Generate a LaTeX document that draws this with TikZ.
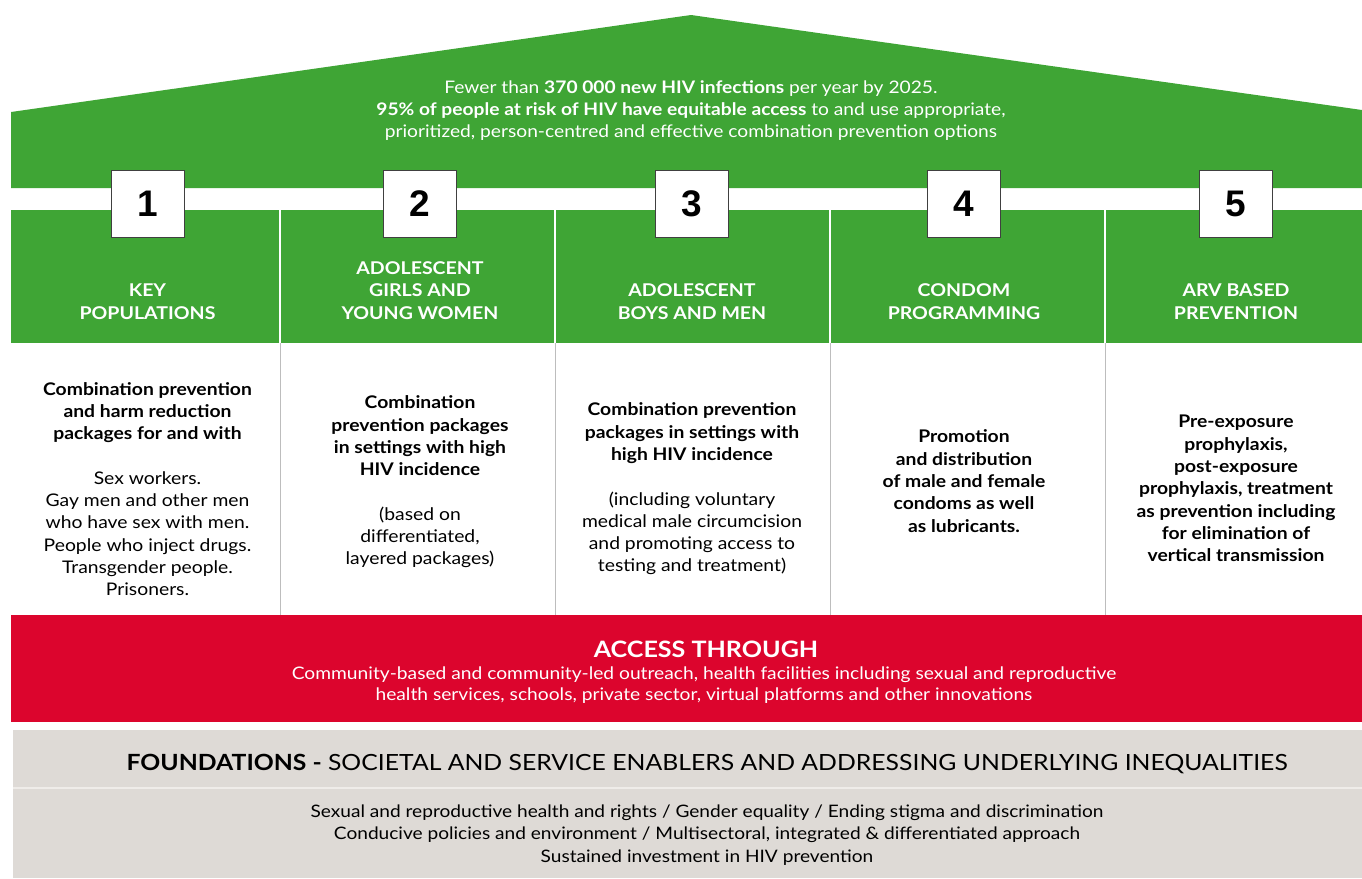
\documentclass[tikz,border=0pt]{standalone}
\usepackage{fontspec}
\setmainfont{Lato}[FakeStretch=1.11]
\newfontfamily\numfont{Liberation Sans}
\definecolor{hgreen}{HTML}{3FA535}
\definecolor{hred}{HTML}{DC052D}
\definecolor{hgray}{HTML}{DEDAD6}
\definecolor{hgrayline}{HTML}{EFECE9}
\definecolor{divgray}{HTML}{BDBDBD}
\begin{document}
\begin{tikzpicture}[x=1pt,y=-1pt,
  hdr/.style={text=white, font=\bfseries\fontsize{17.6}{22.5}\selectfont, align=center, inner sep=0},
  body/.style={text=black, font=\fontsize{17.4}{22.3}\selectfont, align=center, inner sep=0},
  numbox/.style={draw=black!75, fill=white, line width=0.9pt, minimum width=73pt, minimum height=67pt, inner sep=0, font=\numfont\bfseries\fontsize{37}{37}\selectfont},
  wtxt/.style={text=white, font=\fontsize{17.3}{21.7}\selectfont, align=center, inner sep=0},
  btxt/.style={text=black, font=\fontsize{17.2}{22.5}\selectfont, align=center, inner sep=0}
]
\useasboundingbox (0,0) rectangle (1362,878);
% roof
\fill[hgreen] (11,112) -- (691,15) -- (1362,110) -- (1362,188) -- (11,188) -- cycle;
% header band
\fill[hgreen] (11,210) rectangle (1362,343);
\foreach \xx in {280,555,830,1105} {
  \draw[white, line width=1.3pt] (\xx,210) -- (\xx,343);
  \draw[divgray, line width=1pt] (\xx,343) -- (\xx,615);
}
% red band
\fill[hred] (11,615) rectangle (1362,722);
% gray band
\fill[hgray] (13,730) rectangle (1362,878);
\draw[hgrayline, line width=2pt] (13,788) -- (1362,788);

% top text
\node[wtxt] (goal) at (691,110.5) {Fewer than \textbf{370 000 new HIV infections} per year by 2025.\\
\textbf{95\% of people at risk of HIV have equitable access} to and use appropriate,\\
prioritized, person-centred and effective combination prevention options};

% number boxes
\node[numbox] (n1) at (147.5,203.5) {1};
\node[numbox] (n2) at (420,203.5) {2};
\node[numbox] (n3) at (692,203.5) {3};
\node[numbox] (n4) at (964,203.5) {4};
\node[numbox] (n5) at (1236,203.5) {5};

% headers
\node[hdr] (h1) at (147.5,301.5) {KEY\\POPULATIONS};
\node[hdr] (h2) at (420,290.5) {ADOLESCENT\\GIRLS AND\\YOUNG WOMEN};
\node[hdr] (h3) at (692,301.5) {ADOLESCENT\\BOYS AND MEN};
\node[hdr] (h4) at (964,301.5) {CONDOM\\PROGRAMMING};
\node[hdr] (h5) at (1236,301.5) {ARV BASED\\PREVENTION};

% bodies
\node[body] (b1) at (147.5,489) {\textbf{Combination prevention}\\\textbf{and harm reduction}\\\textbf{packages for and with}\\[22.3pt]
Sex workers.\\Gay men and other men\\who have sex with men.\\People who inject drugs.\\Transgender people.\\Prisoners.};
\node[body] (b2) at (420,482) {\textbf{Combination}\\\textbf{prevention packages}\\\textbf{in settings with high}\\\textbf{HIV incidence}\\[22.3pt]
(based on\\differentiated,\\layered packages)};
\node[body] (b3) at (692,489) {\textbf{Combination prevention}\\\textbf{packages in settings with}\\\textbf{high HIV incidence}\\[22.3pt]
(including voluntary\\medical male circumcision\\and promoting access to\\testing and treatment)};
\node[body, font=\bfseries\fontsize{17.4}{22.3}\selectfont] (b4) at (964,481) {Promotion\\and distribution\\of male and female\\condoms as well\\as lubricants.};
\node[body, font=\bfseries\fontsize{17.4}{22.3}\selectfont] (b5) at (1236,488.5) {Pre-exposure\\prophylaxis,\\post-exposure\\prophylaxis, treatment\\as prevention including\\for elimination of\\vertical transmission};

% access through
\node[text=white, font=\bfseries\fontsize{22.6}{26}\selectfont, inner sep=0] (acc) at (706,649) {ACCESS THROUGH};
\node[wtxt] (accsub) at (704,685) {Community-based and community-led outreach, health facilities including sexual and reproductive\\health services, schools, private sector, virtual platforms and other innovations};

% foundations
\node[text=black, font=\fontsize{22.3}{26}\selectfont, inner sep=0] (fnd) at (707,764) {\textbf{FOUNDATIONS -} SOCIETAL AND SERVICE ENABLERS AND ADDRESSING UNDERLYING INEQUALITIES};
\node[btxt] (fndsub) at (707,835) {Sexual and reproductive health and rights / Gender equality / Ending stigma and discrimination\\Conducive policies and environment / Multisectoral, integrated \& differentiated approach\\Sustained investment in HIV prevention};
\end{tikzpicture}
\end{document}
